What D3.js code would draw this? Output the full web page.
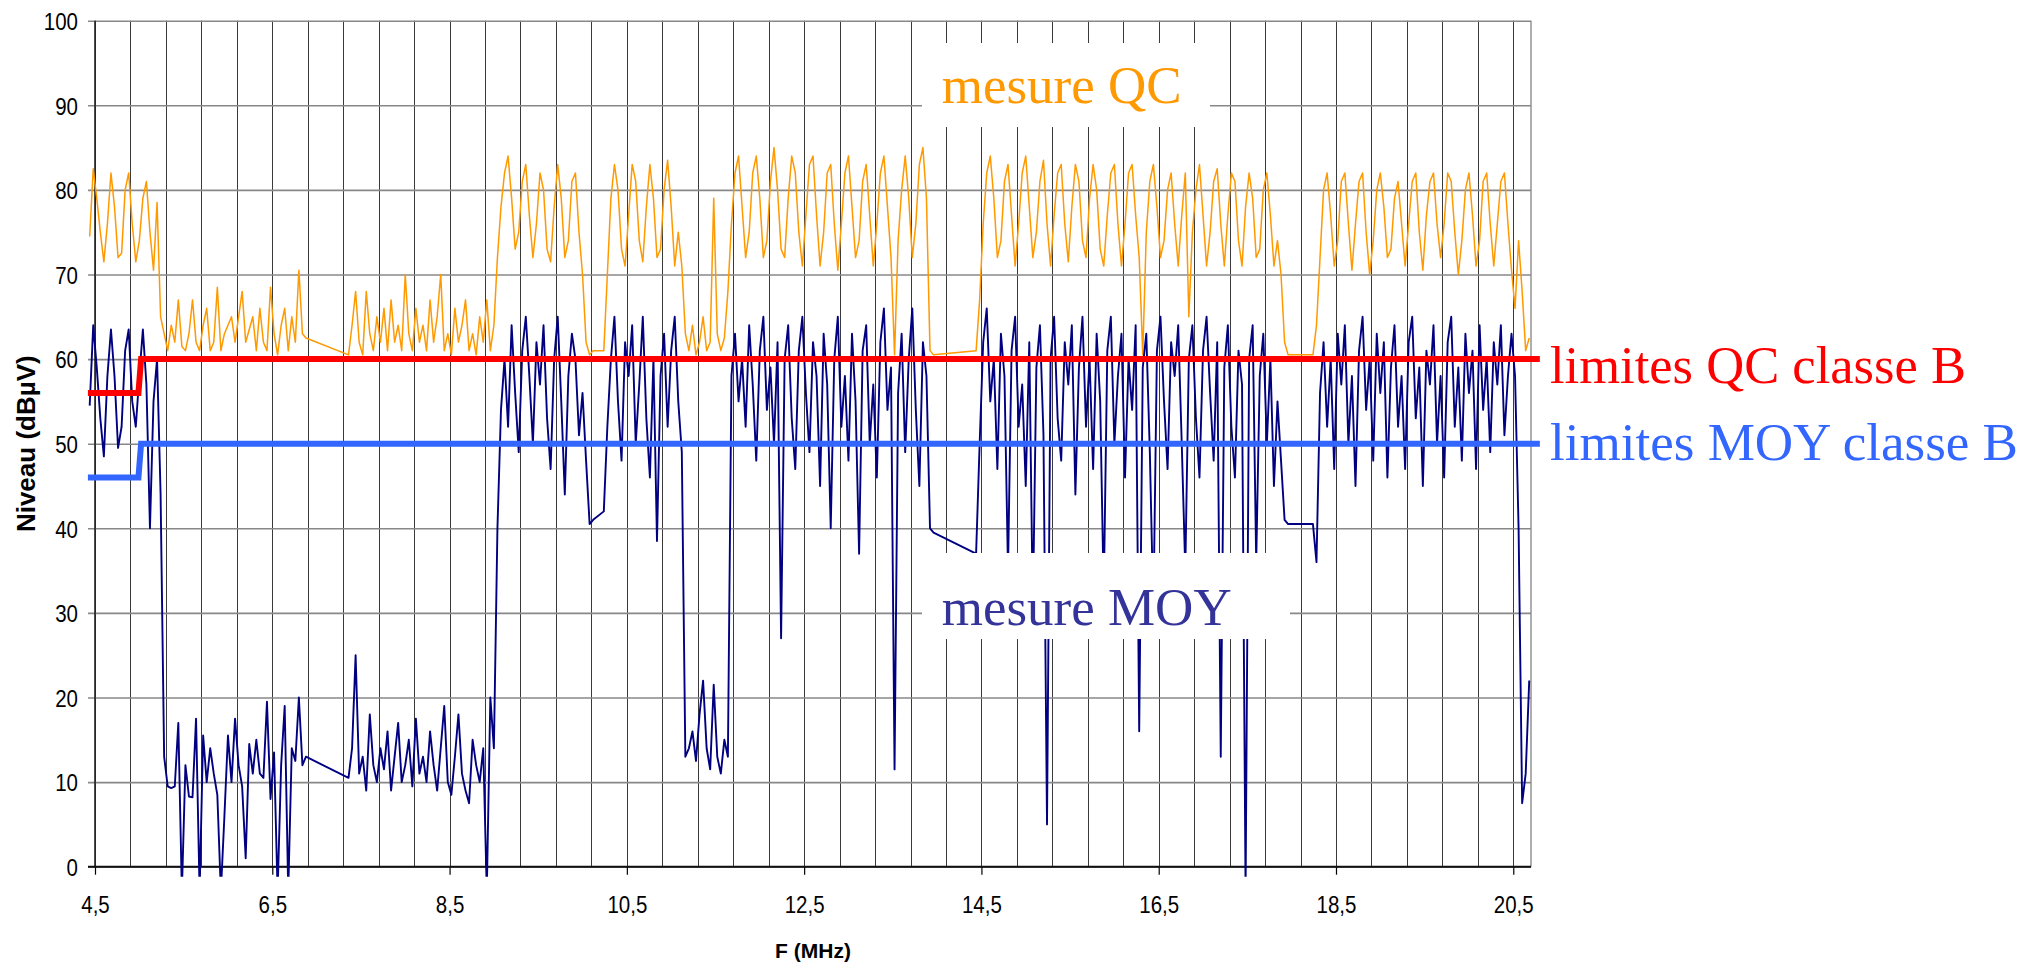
<!DOCTYPE html>
<html>
<head>
<meta charset="utf-8">
<script src="https://cdn.jsdelivr.net/npm/d3@7"></script>
<style>
	html, body { margin: 0; padding: 0; background: #fff; }
	svg { display: block; }
	.serif { font-family: "Liberation Serif", "DejaVu Serif", serif; }
</style>
</head>
<body>
<svg id="chart" width="2044" height="966"></svg>
<script>
// sweep grid: starts at 4.44 MHz, one reading every 0.04 MHz
// each row below = 10 readings (0.4 MHz), null = no reading (line bridges the gap)
var sweepStart = 4.44, sweepStep = 0.04;

var qcLevel = [
	74.5, 82.5, 79, 75, 71.5, 76, 82, 78, 72, 72.5,
	80, 82, 76, 71.5, 74, 79, 81, 75, 70.5, 78.5,
	65, 63, 61, 64, 62, 67, 61.5, 61, 63, 67,
	62, 61, 64, 66, 61, 62, 68.5, 61, 63, 64,
	65, 62, 65, 68, 62, 63.5, 65, 61, 66, 62,
	61, 68.5, 63, 60.5, 64, 66, 61, 65, 62, 70.5,
	63, 62.5, null, null, null, null, null, null, null, null,
	null, null, null, 60.5, 64, 68, 62, 60.5, 68, 63,
	61, 65, 62, 66, 61, 67, 62, 64, 61, 70,
	63, 61, 66, 62, 64, 61, 67, 62, 65, 70,
	61, 63, 60.5, 66, 62, 64, 67, 61, 63, 60.5,
	65, 62, 67, 61, 64, 72, 78, 82, 84, 79,
	73, 75, 81, 83, 77, 72, 76, 82, 80, 73,
	71.5, 78, 83, 79, 72, 74, 81, 82, 75, 70,
	62, 60.5, 61, null, null, 61, 70, 79, 83, 80,
	73, 71, 77, 83, 81, 74, 71.5, 78, 83, 79,
	72, 73, 80, 83.5, 78, 71, 75, 71, 63, 61,
	64, 60.5, 62, 65, 61, 62, 79, 63, 61, 62.5,
	68, 76, 82, 84, 78, 72, 75, 82, 84, 79,
	72, 74, 81, 85, 80, 73, 72, 79, 84, 82,
	75, 71, 77, 83, 84, 77, 71, 75, 82, 83,
	76, 70.5, 76, 82, 84, 78, 72, 74, 81, 83,
	77, 71, 76, 82, 84, 78, 72, 60.5, 74, 80,
	84, 79, 72, 76, 83, 85, 79, 61, 60.5, null,
	null, null, null, null, null, null, null, null, null, null,
	61, 67, 76, 82, 84, 79, 72, 74, 81, 83,
	77, 71, 76, 82, 84, 78, 72, 75, 81, 83.5,
	76, 71, 77, 82, 83, 76, 71.5, 78, 83, 81,
	74, 72, 79, 83, 80, 73, 71, 77, 82, 83,
	76, 71, 76, 82, 83, 77, 72, 60.5, 75, 81,
	83, 78, 72, 74, 80, 82, 76, 71, 77, 82,
	65, 75, 80, 83, 77, 71, 75, 81, 82.5, 76,
	71, 77, 82, 81, 74, 71, 78, 82, 79, 72,
	73, 80, 82, 77, 71, 74, 70, 62, 60.5, null,
	null, null, null, null, null, 60.5, 64, 72, 80, 82,
	77, 71, 74, 81, 82, 76, 70.5, 76, 81, 82,
	75, 70, 74, 80, 82, 78, 72, 73, 79, 81,
	76, 71, 76, 81, 82, 75, 70.5, 77, 81, 82,
	76, 72, 76, 82, 81, 75, 70, 74, 80, 82,
	77, 71, 74, 81, 82, 76, 71, 76, 81, 82,
	76, 70.5, 66, 74, 68, 61, 62.5
];

var moyLevel = [
	54.5, 64, 59, 53, 48.5, 58, 63.5, 58, 49.5, 52,
	61, 63.5, 55, 52, 58, 63.5, 57, 40, 55, 60,
	44, 13, 9.5, 9.3, 9.5, 17, -3, 12, 8.3, 8.2,
	17.5, -3, 15.5, 10, 14, 11, 8.5, -3, 6, 15.5,
	10, 17.5, 12, 9.5, 1, 14.5, 11, 15, 11, 10.5,
	19.5, 8, 13.5, -3, 12, 19, -3, 14, 12.5, 20,
	12, 13, null, null, null, null, null, null, null, null,
	null, null, null, 10.5, 14, 25, 11, 13, 9, 18,
	12, 10, 14, 11.5, 16, 9, 13, 17, 10, 12,
	15, 9.5, 17.5, 11, 13, 10, 16, 12, 9, 14,
	19, 10, 8.5, 13, 18, 11, 9, 7.5, 15, 12,
	10, 14, -3, 20, 14, 40, 54, 60, 52, 64,
	56, 49, 61, 65, 58, 50, 62, 57, 64, 53,
	47, 60, 65, 55, 44, 58, 63, 60, 51, 56,
	48, 40.5, 41, null, null, 42, 52, 60, 65, 55,
	48, 62, 58, 64, 50, 57, 65, 53, 46, 60,
	38.5, 58, 63, 52, 61, 65, 55, 49, 13, 14,
	16, 12.5, 18, 22, 14, 11.5, 21.5, 13, 11, 15,
	13, 58, 63, 55, 60, 52, 64, 57, 48, 61,
	65, 54, 59, 50, 62, 27, 60, 64, 53, 47,
	61, 65, 56, 49, 62, 58, 45, 63, 57, 40,
	60, 65, 52, 58, 48, 63, 55, 37, 61, 64,
	50, 57, 46, 62, 66, 54, 59, 11.5, 56, 63,
	49, 60, 66, 54, 45, 62, 58, 40, 39.5, null,
	null, null, null, null, null, null, null, null, null, null,
	37, 50, 62, 66, 55, 60, 47, 63, 58, 35,
	61, 65, 52, 57, 45, 62, 30, 59, 64, 51,
	5, 60, 65, 53, 48, 62, 57, 64, 44, 59,
	65, 52, 60, 47, 63, 55, 32, 61, 65, 50,
	58, 63, 46, 60, 54, 64, 16, 59, 63, 49,
	30, 61, 65, 55, 47, 62, 58, 64, 50, 35,
	60, 64, 53, 46, 61, 65, 56, 48, 62, 13,
	59, 64, 52, 46, 61, 57, -3, 60, 64, 36,
	58, 63, 50, 60, 45, 55, 48, 41, 40.5, null,
	null, null, null, null, null, 40.5, 36, 56, 62, 52,
	60, 47, 63, 57, 64, 50, 58, 45, 61, 65,
	54, 60, 48, 63, 56, 62, 46, 59, 64, 52,
	58, 47, 62, 65, 53, 59, 45, 61, 57, 64,
	50, 58, 46, 62, 65, 52, 59, 48, 63, 56,
	61, 47, 64, 54, 60, 49, 62, 57, 64, 51,
	58, 63, 58, 40, 7.5, 11, 22
];

// class B limits (step at 5 MHz)
var limitFreq = [4.42, 4.99, 5.02, 20.8];
var qcLimit = [56, 56, 60, 60];
var moyLimit = [46, 46, 50, 50];

var xTicks = [4.5, 6.5, 8.5, 10.5, 12.5, 14.5, 16.5, 18.5, 20.5];
var yTicks = [0, 10, 20, 30, 40, 50, 60, 70, 80, 90, 100];

var margins = {top: 20.7, right: 513, bottom: 99.3, left: 95};
var svg = d3.select("#chart");
var W = +svg.attr("width"), H = +svg.attr("height");
var width = W - margins.left - margins.right;
var height = H - margins.top - margins.bottom;

var x = d3.scaleLinear().domain([4.5, 20.7]).range([margins.left, margins.left + width]);
var y = d3.scaleLinear().domain([0, 100]).range([margins.top + height, margins.top]);

var sansFont = "'Liberation Sans', Arial, sans-serif";

function _series(levels){
	return levels.map(function(v, i){
		return { f: sweepStart + i * sweepStep, v: v };
	}).filter(function(d){ return d.v !== null; });
}

// vertical grid every 0.4 MHz
svg.append("g")
	.selectAll("line")
	.data(d3.range(4.5, 20.51, 0.4))
	.enter().append("line")
		.attr("x1", function(d){ return Math.round(x(d)) + 0.5; })
		.attr("x2", function(d){ return Math.round(x(d)) + 0.5; })
		.attr("y1", y(100)).attr("y2", y(0))
		.attr("stroke", "#3a3a3a").attr("stroke-width", 1);

// right border of plot
svg.append("line")
	.attr("x1", x(20.7)).attr("x2", x(20.7))
	.attr("y1", y(100)).attr("y2", y(0))
	.attr("stroke", "#8c8c8c").attr("stroke-width", 1.4);

// Y axis with horizontal grid (ticks reach 7px outside)
function customYAxis(g){
	var yaxis = d3.axisLeft(y)
		.tickValues(yTicks)
		.tickSizeInner(-(width + 7))
		.tickSizeOuter(0)
		.tickPadding(10);
	g.call(yaxis);
	g.select(".domain").remove();
	g.selectAll(".tick line")
		.attr("stroke", "#888").attr("stroke-width", 1.6);
	g.selectAll("text")
		.attr("x", null).attr("dy", null)
		.attr("transform", "translate(-10,8.8) scale(0.83,1)")
		.attr("text-anchor", "end")
		.attr("font-family", sansFont)
		.attr("font-size", 24.7)
		.attr("fill", "#000");
}

svg.append("g")
	.attr("transform", "translate(" + (margins.left - 7) + ",0)")
	.call(customYAxis);

// X axis
function customXAxis(g){
	var xaxis = d3.axisBottom(x)
		.tickValues(xTicks)
		.tickSizeInner(8)
		.tickSizeOuter(0)
		.tickFormat(function(d){ return d.toFixed(1).replace(".", ","); });
	g.call(xaxis);
	g.select(".domain").remove();
	g.selectAll(".tick line").attr("stroke", "#000").attr("stroke-width", 1.2);
	g.selectAll("text")
		.attr("y", null).attr("dy", null)
		.attr("transform", "translate(0,46) scale(0.83,1)")
		.attr("text-anchor", "middle")
		.attr("font-family", sansFont)
		.attr("font-size", 24.7)
		.attr("fill", "#000");
}

svg.append("g")
	.attr("transform", "translate(0," + y(0) + ")")
	.call(customXAxis);

// axis lines
svg.append("line")
	.attr("x1", x(4.5)).attr("x2", x(4.5))
	.attr("y1", y(100)).attr("y2", y(0) + 1)
	.attr("stroke", "#222").attr("stroke-width", 1.6);
svg.append("line")
	.attr("x1", margins.left - 7).attr("x2", x(20.7))
	.attr("y1", y(0)).attr("y2", y(0))
	.attr("stroke", "#111").attr("stroke-width", 2);

// data traces, clipped a little below the axis like the original
svg.append("clipPath").attr("id", "plot-clip")
	.append("rect")
		.attr("x", margins.left - 10).attr("y", 0)
		.attr("width", x(20.7) - margins.left + 10)
		.attr("height", y(0) + 10);

var line = d3.line()
	.x(function(d){ return x(d.f); })
	.y(function(d){ return y(d.v); });

var traces = svg.append("g").attr("clip-path", "url(#plot-clip)");

traces.append("path")
	.datum(_series(qcLevel))
	.attr("d", line)
	.attr("fill", "none")
	.attr("stroke", "#FF9900")
	.attr("stroke-width", 1.5)
	.attr("stroke-linejoin", "round");

traces.append("path")
	.datum(_series(moyLevel))
	.attr("d", line)
	.attr("fill", "none")
	.attr("stroke", "#000080")
	.attr("stroke-width", 1.9)
	.attr("stroke-linejoin", "round");

// limit lines on top
var limitLine = d3.line()
	.x(function(d){ return x(d[0]); })
	.y(function(d){ return y(d[1]); });

svg.append("path")
	.datum(d3.zip(limitFreq, qcLimit))
	.attr("d", limitLine)
	.attr("fill", "none")
	.attr("stroke", "#FF0000")
	.attr("stroke-width", 6);

svg.append("path")
	.datum(d3.zip(limitFreq, moyLimit))
	.attr("d", limitLine)
	.attr("fill", "none")
	.attr("stroke", "#3366FF")
	.attr("stroke-width", 6);

// serif labels, width pinned to the original
function serifLabel(txt, px, py, size, len, color){
	svg.append("text")
		.attr("class", "serif")
		.attr("x", px).attr("y", py)
		.attr("font-size", size)
		.attr("textLength", len)
		.attr("lengthAdjust", "spacingAndGlyphs")
		.attr("fill", color)
		.text(txt);
}

// labels with white boxes over the grid
svg.append("rect")
	.attr("x", 922).attr("y", 43).attr("width", 288).attr("height", 84)
	.attr("fill", "#fff");
serifLabel("mesure QC", 941.7, 103.3, 53, 240, "#FF9900");

svg.append("rect")
	.attr("x", 922).attr("y", 553).attr("width", 368).attr("height", 86)
	.attr("fill", "#fff");
serifLabel("mesure MOY", 941.7, 625, 53, 290, "#333399");

serifLabel("limites QC classe B", 1550, y(60) + 23.5, 52.5, 416, "#FF0000");
serifLabel("limites MOY classe B", 1550, y(50) + 16.5, 52.5, 468, "#3366FF");

// axis titles
svg.append("text")
	.attr("x", x(12.6)).attr("y", 958)
	.attr("text-anchor", "middle")
	.attr("font-family", sansFont).attr("font-weight", "bold").attr("font-size", 21)
	.attr("fill", "#000")
	.text("F (MHz)");

svg.append("text")
	.attr("transform", "translate(35," + y(50) + ") rotate(-90)")
	.attr("text-anchor", "middle")
	.attr("font-family", sansFont).attr("font-weight", "bold").attr("font-size", 26)
	.attr("fill", "#000")
	.text("Niveau (dBµV)");
</script>
</body>
</html>
